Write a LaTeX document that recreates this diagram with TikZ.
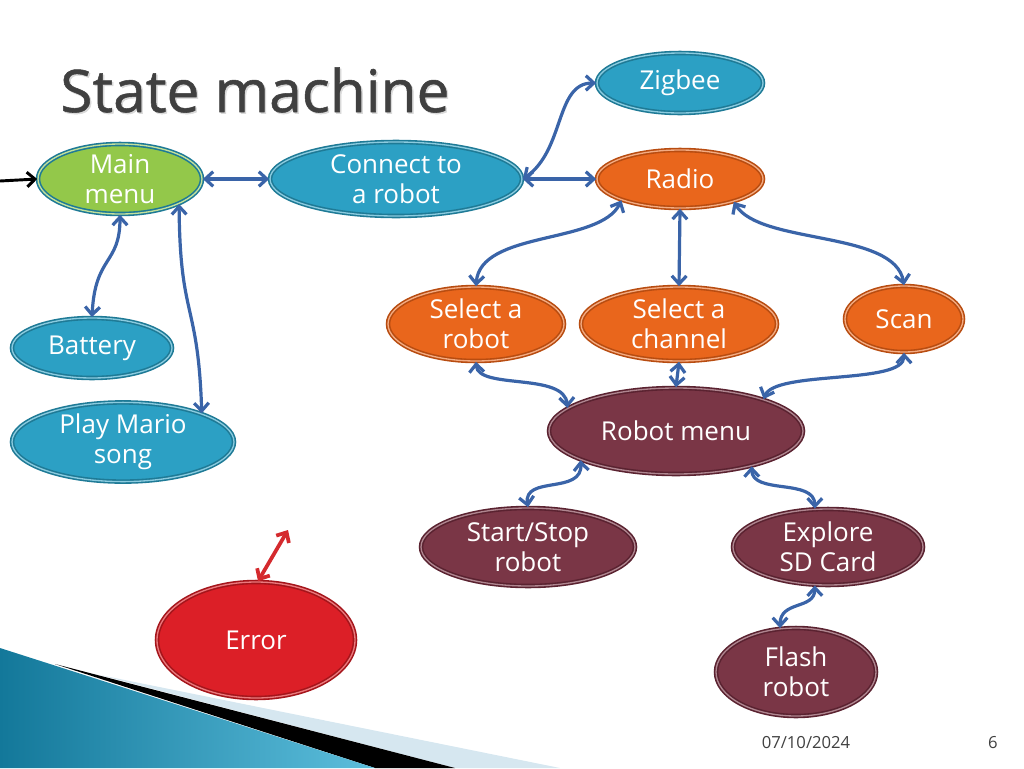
\documentclass[tikz,border=0pt]{standalone}
\usepackage{fontspec}
\setmainfont{Open Sans}
\newfontfamily\titlefont{Open Sans}[FakeBold=0.9]
\usetikzlibrary{shapes.geometric,arrows.meta}
\definecolor{tealfill}{HTML}{2CA0C4}
\definecolor{tealborder}{HTML}{1E7A96}
\definecolor{greenfill}{HTML}{93C84A}
\definecolor{orangefill}{HTML}{E9661C}
\definecolor{orangeborder}{HTML}{B84C10}
\definecolor{maroonfill}{HTML}{7A3646}
\definecolor{maroonborder}{HTML}{5A2230}
\definecolor{redfill}{HTML}{DC1F27}
\definecolor{redborder}{HTML}{A5151B}
\definecolor{linkblue}{HTML}{3A64A8}
\definecolor{errred}{HTML}{D42A2E}
\definecolor{titlegray}{HTML}{404040}
\definecolor{palebar}{HTML}{D6E7F0}
\definecolor{bluedark}{HTML}{13789A}
\definecolor{bluelight}{HTML}{5CBEDC}
\tikzset{
  state/.style={ellipse, inner sep=0pt, text=white, align=center,
    font=\fontsize{19.5}{22.5}\selectfont, line width=1.2pt, double distance=1pt},
  sz/.style 2 args={minimum width=#1*1.5pt, minimum height=#2*1.5pt},
  tealst/.style={state, fill=tealfill, draw=tealborder, double=tealfill!55!white},
  greenst/.style={state, fill=greenfill, draw=tealborder, double=greenfill!55!white},
  orangest/.style={state, fill=orangefill, draw=orangeborder, double=orangefill!55!white},
  maroonst/.style={state, fill=maroonfill, draw=maroonborder, double=maroonfill!60!white},
  redst/.style={state, fill=redfill, draw=redborder, double=redfill!60!white},
  barb/.tip={Straight Barb[length=6pt,width=11pt]},
  link/.style={draw=linkblue, line width=2.4pt, barb-barb},
  entry/.style={draw=black, line width=2.2pt, -barb},
  errlink/.style={draw=errred, line width=2.8pt, barb-barb},
  footer/.style={text=titlegray, font=\fontsize{12.5}{14}\selectfont},
  titletext/.style={anchor=base west, font=\titlefont\fontsize{44}{50}\selectfont, inner sep=0pt},
}
\begin{document}
\begin{tikzpicture}[x=0.75pt,y=-0.75pt]
\useasboundingbox (0,0) rectangle (1024,768);
% background decoration
\fill[palebar] (100,675) -- (560,768) -- (455,768) -- cycle;
\fill[black] (55,664) -- (455,768) -- (375,768) -- cycle;
\shade[left color=bluedark, right color=bluelight] (0,648) -- (375,768) -- (0,768) -- cycle;
% title
\node[titletext, text=black!15] (titleshadow) at (61.5,113.5) {State machine};
\node[titletext, text=titlegray] (title) at (60,112) {State machine};
% states
\node[greenst, sz={82}{35}] (main) at (120,179) {Main\\menu};
\node[tealst, sz={126}{37}] (conn) at (396,179) {Connect to\\a robot};
\node[tealst, sz={83}{30}] (zig) at (680,83) {Zigbee};
\node[orangest, sz={83}{29}] (radio) at (680,179) {Radio};
\node[orangest, sz={88}{37}] (selrob) at (476,324) {Select a\\robot};
\node[orangest, sz={98}{37}] (selch) at (679,324) {Select a\\channel};
\node[orangest, sz={59}{33}] (scan) at (904,319) {Scan};
\node[tealst, sz={80}{30}] (bat) at (92,348) {Battery};
\node[tealst, sz={111}{38}] (mario) at (123,442) {Play Mario\\song};
\node[maroonst, sz={127}{43}] (robmenu) at (676,431) {Robot menu};
\node[maroonst, sz={107}{39}] (startstop) at (528,547) {Start/Stop\\robot};
\node[maroonst, sz={95}{38}] (explore) at (828,547) {Explore\\SD Card};
\node[maroonst, sz={80}{44}] (flash) at (796,672) {Flash\\robot};
\node[redst, sz={99}{58}] (error) at (256,640) {Error};
% free ends
\coordinate (entrystart) at (0,181);
\coordinate (errtip) at (288,530);
% connectors
\draw[entry] (entrystart) -- (main.west);
\draw[link] (main.east) -- (conn.west);
\draw[link] (conn.east) -- (radio.west);
\draw[link] (conn.east) .. controls (565,150) and (555,83) .. (zig.west);
\draw[link] (radio.200) .. controls (600,245) and (480,230) .. (selrob.north);
\draw[link] (radio.south) -- (selch.north);
\draw[link] (radio.-23) .. controls (760,245) and (895,230) .. (scan.north);
\draw[link] (selrob.south) .. controls (478,390) and (565,372) .. (robmenu.168);
\draw[link] (selch.south) -- (robmenu.north);
\draw[link] (scan.south) .. controls (904,385) and (775,370) .. (robmenu.20);
\draw[link] (robmenu.197) .. controls (583,495) and (523,475) .. (startstop.north);
\draw[link] (robmenu.-25) .. controls (752,495) and (815,478) .. (explore.109);
\draw[link] (explore.-109) .. controls (815,610) and (780,600) .. (flash.110);
\draw[link] (main.south) .. controls (120,265) and (95,255) .. (bat.north);
\draw[link] (main.-23) .. controls (180,320) and (198,300) .. (mario.20);
\draw[errlink] (error.88) -- (errtip);
% footer
\node[footer] (date) at (806,743) {07/10/2024};
\node[footer] (page) at (993,743) {6};
\end{tikzpicture}
\end{document}
